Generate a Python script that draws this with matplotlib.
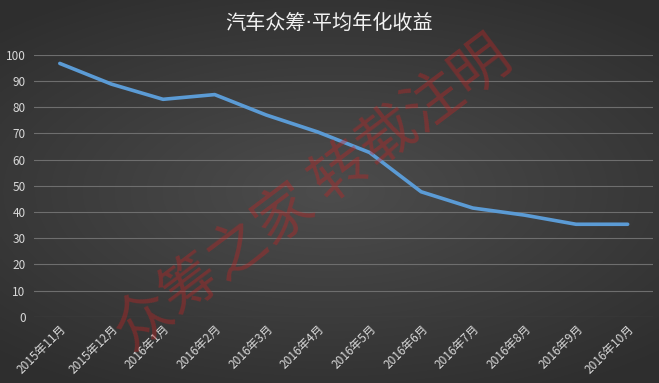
import numpy as np
import matplotlib
matplotlib.use("Agg")
import matplotlib.pyplot as plt

plt.rcParams["font.family"] = ["Noto Sans CJK SC", "DejaVu Sans"]

# Chart data
months = ["2015年11月", "2015年12月", "2016年1月", "2016年2月", "2016年3月", "2016年4月",
          "2016年5月", "2016年6月", "2016年7月", "2016年8月", "2016年9月", "2016年10月"]
avg_return = [96.7, 88.8, 83.0, 84.8, 77.0, 70.5, 62.7, 47.7, 41.5, 38.8, 35.3, 35.3]
y_ticks = list(range(0, 101, 10))

title = "汽车众筹·平均年化收益"
watermark = "众筹之家 转载注明"

fig = plt.figure(figsize=(6.59, 3.83), dpi=100)

# dark radial background
bg = fig.add_axes([0, 0, 1, 1])
yy, xx = np.mgrid[-1:1:200j, -1:1:340j]
r = np.sqrt((xx * 0.9) ** 2 + (yy * 1.1) ** 2)
shade = 0.30 - 0.09 * np.clip(r, 0, 1.3)
bg.imshow(np.dstack([shade, shade, shade]), aspect="auto", extent=[0, 1, 0, 1],
          interpolation="bilinear")
bg.axis("off")

ax = fig.add_axes([0.0516, 0.173, 0.940, 0.684])
ax.patch.set_alpha(0)
x = np.arange(len(months))
ax.plot(x, avg_return, color="#5b9bd5", lw=2.6, solid_capstyle="round", zorder=3)

ax.set_xlim(-0.5, len(months) - 0.5)
ax.set_ylim(0, 100)
ax.set_yticks(y_ticks)
ax.set_xticks(x)
ax.set_xticklabels(months, rotation=45, ha="right", rotation_mode="anchor")
ax.grid(axis="y", color="#6e6e6e", lw=0.8)
ax.set_axisbelow(True)
for s in ax.spines.values():
    s.set_visible(False)
ax.tick_params(axis="both", length=0, colors="#d8d8d8", labelsize=8.5)
ax.tick_params(axis="x", pad=4)
ax.tick_params(axis="y", pad=6)

# DejaVu first so the middle dot stays narrow; CJK falls back to Noto
fig.text(0.5, 0.94, title, ha="center", va="center", color="#f2f2f2", fontsize=14.5,
         family=["DejaVu Sans", "Noto Sans CJK SC"])

fig.text(0.475, 0.49, watermark, ha="center", va="center", color="#c02525", alpha=0.4,
         fontsize=42, rotation=37, fontweight="light")

fig.savefig("out.png", dpi=100)
